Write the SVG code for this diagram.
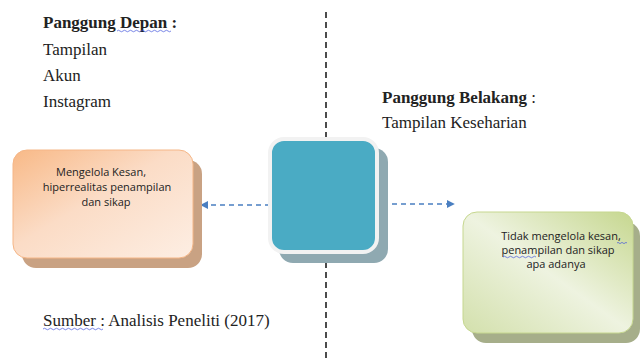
<svg xmlns="http://www.w3.org/2000/svg" width="640" height="362" viewBox="0 0 640 362">
<style>
.serif{font-family:"Liberation Serif","DejaVu Serif",serif;font-size:17px;fill:#222}
.b{font-weight:bold}
.sans{font-family:"Open Sans","Liberation Sans",sans-serif;font-size:11px;fill:#222;text-anchor:middle}
.conn{stroke:#4a7fc1;stroke-width:1.5;stroke-dasharray:5,4;fill:none}
.squig{stroke:#4455dd;stroke-width:0.7;fill:none}
</style>
<defs>
<linearGradient id="gO" x1="0" y1="0" x2="1" y2="1">
<stop offset="0" stop-color="#f8b987"/>
<stop offset="0.45" stop-color="#fbdcc6"/>
<stop offset="1" stop-color="#fdeee3"/>
</linearGradient>
<linearGradient id="gG" x1="1" y1="0" x2="0" y2="1">
<stop offset="0" stop-color="#c6d78f"/>
<stop offset="0.5" stop-color="#eef3e0"/>
<stop offset="1" stop-color="#d3e0ac"/>
</linearGradient>
<marker id="ah" viewBox="0 0 10 10" refX="9" refY="5" markerWidth="8" markerHeight="8" markerUnits="userSpaceOnUse" orient="auto">
<path d="M0,0 L10,5 L0,10 z" fill="#4a7fc1"/>
</marker>
</defs>
<rect width="640" height="362" fill="#fff"/>
<line x1="326" y1="12" x2="326" y2="362" stroke="#111" stroke-width="1.5" stroke-dasharray="6,4"/>
<g id="text-depan">
<text class="serif b" x="43" y="28">Panggung Depan :</text>
<path class="squig" d="M117,31 q1.5,-1.5 3,0 t3,0 t3,0 t3,0 t3,0 t3,0 t3,0 t3,0 t3,0 t3,0 t3,0 t3,0 t3,0 t3,0 t3,0 t3,0 t3,0 t3,0"/>
<text class="serif" x="43" y="55">Tampilan</text>
<text class="serif" x="43" y="81">Akun</text>
<text class="serif" x="43" y="107">Instagram</text>
</g>
<g id="text-belakang">
<text class="serif" x="382" y="103"><tspan class="b">Panggung Belakang</tspan> :</text>
<text class="serif" x="382" y="128">Tampilan Keseharian</text>
</g>
<g id="text-sumber">
<text class="serif" x="43" y="326">Sumber : Analisis Peneliti (2017)</text>
<path class="squig" d="M43,329 q1.5,-1.5 3,0 t3,0 t3,0 t3,0 t3,0 t3,0 t3,0 t3,0 t3,0 t3,0 t3,0 t3,0 t3,0 t3,0 t3,0 t3,0 t3,0 t3,0 t3,0 t3,0"/>
</g>
<g id="connectors">
<line class="conn" x1="270" y1="205" x2="201" y2="205" marker-end="url(#ah)"/>
<line class="conn" x1="383" y1="204" x2="454" y2="204" marker-end="url(#ah)"/>
</g>
<g id="node-left">
<rect x="22" y="160" width="180" height="108" rx="14" fill="#c9a283"/>
<rect x="13" y="150" width="180" height="108" rx="14" fill="url(#gO)" stroke="#f5b687" stroke-width="1"/>
<text class="sans" x="101" y="176">Mengelola Kesan,</text>
<text class="sans" x="107" y="191">hiperrealitas penampilan</text>
<text class="sans" x="106" y="206">dan sikap</text>
</g>
<g id="node-center">
<rect x="279" y="148" width="109" height="115" rx="14" fill="#8fa9b1"/>
<rect x="270" y="139" width="107" height="113" rx="14" fill="#4aabc4" stroke="#f2f2f2" stroke-width="4"/>
</g>
<g id="node-right">
<rect x="472" y="222" width="168" height="121" rx="14" fill="#a6ae8a"/>
<rect x="463" y="212" width="170" height="121" rx="14" fill="url(#gG)" stroke="#c6d78f" stroke-width="1"/>
<text class="sans" x="561" y="240">Tidak mengelola kesan,</text>
<path class="squig" d="M617,243 q1,-1.2 2,0 t2,0 t2,0 t2,0 t2,0"/>
<text class="sans" x="558" y="254">penampilan dan sikap</text>
<path class="squig" d="M503,257 q1.5,-1.5 3,0 t3,0 t3,0 t3,0 t3,0 t3,0 t3,0 t3,0 t3,0 t3,0 t3,0"/>
<text class="sans" x="556" y="268">apa adanya</text>
</g>
</svg>
